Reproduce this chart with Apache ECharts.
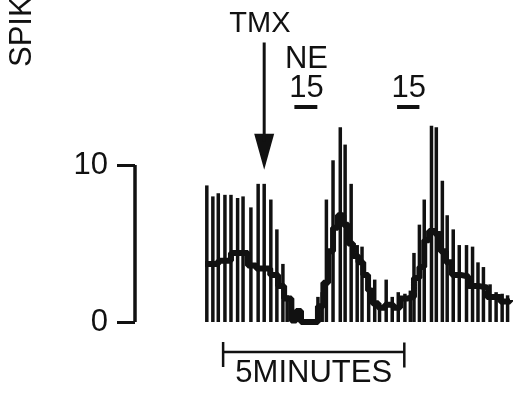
<!DOCTYPE html>
<html>
<head>
<meta charset="utf-8">
<script src="https://cdn.jsdelivr.net/npm/echarts@6/dist/echarts.min.js"></script>
<style>
html,body{margin:0;padding:0;background:#fff;}
#chart{width:514px;height:394px;}
</style>
</head>
<body>
<div id="chart"></div>
<script>
// time in seconds from start of trace, values in spikes/sec
const spikeTimes = [3, 13, 22, 33, 43, 54, 63, 76, 88, 98, 109, 119, 129, 136,
  187, 194, 201, 212, 224, 232, 242, 252, 260, 271, 281, 289, 300, 310, 320, 331, 340,
  346, 355, 363, 375, 383, 393, 401, 411, 421, 433, 443, 452, 461, 472, 482, 492, 501];
const spikeHeights = [8.7, 8.0, 8.2, 8.1, 8.1, 7.9, 8.0, 7.3, 8.8, 8.8, 7.8, 5.9, 3.7, 1.7,
  1.6, 1.9, 7.8, 10.3, 12.4, 11.3, 8.8, 4.9, 4.8, 2.9, 2.7, 1.2, 2.7, 1.6, 1.9, 1.8, 2.0,
  4.4, 6.2, 7.8, 12.5, 12.4, 9.0, 6.8, 5.9, 4.9, 4.9, 4.8, 3.8, 3.5, 2.4, 1.9, 1.8, 1.7];
const rateTimes = [0, 22, 43, 71, 85, 108, 121, 131, 143, 151, 159, 187, 196, 204, 212, 220, 229,
  237, 245, 254, 262, 270, 277, 287, 298, 312, 323, 336, 346, 355, 363, 371, 381, 390, 399, 409,
  423, 436, 452, 467, 489, 505];
const rateValues = [3.7, 3.9, 4.4, 3.6, 3.4, 3.0, 2.3, 1.5, 0.1, 0.7, 0.0, 1.0, 2.5, 4.5, 6.0, 6.8, 6.2,
  5.0, 4.2, 3.8, 3.0, 2.0, 1.2, 0.9, 1.1, 0.9, 1.5, 1.6, 2.8, 3.5, 5.2, 5.8, 5.6, 4.5, 3.8, 3.0,
  2.9, 2.3, 2.2, 1.6, 1.3, 1.4];
const scaleTicks = [0, 10];
const tmxTime = 98;
const neStart = [148, 318];
const neEnd = [186, 355];
const neDose = ['15', '15'];
const timeBarStart = 30;
const timeBarLength = 300; // 5 minutes
const timeBarLabel = '5MINUTES';
const yLabel = 'SPIKES/SEC';

const FONT = '"Liberation Sans", Arial, sans-serif';
const INK = '#111';

const chart = echarts.init(document.getElementById('chart'), null, {renderer: 'canvas'});

const series = [];
series.push({
  type: 'bar', xAxisIndex: 0, yAxisIndex: 0, barWidth: 3.5,
  itemStyle: {color: INK},
  data: spikeTimes.map((t, i) => [t, spikeHeights[i]])
});
series.push({
  type: 'line', xAxisIndex: 0, yAxisIndex: 0, step: 'end', symbol: 'none',
  lineStyle: {color: INK, width: 6},
  data: rateTimes.map((t, i) => [t, rateValues[i]])
});
// TMX arrow
series.push({
  type: 'line', xAxisIndex: 0, yAxisIndex: 0, symbol: 'none',
  lineStyle: {color: INK, width: 3},
  data: [[tmxTime, 17.8], [tmxTime, 11.5]]
});
series.push({
  type: 'scatter', xAxisIndex: 0, yAxisIndex: 0, symbol: 'triangle',
  symbolSize: [20, 36], symbolRotate: 180, itemStyle: {color: INK, opacity: 1},
  data: [[tmxTime, 10.85]]
});
// NE application bars
neStart.forEach((s, i) => {
  series.push({
    type: 'line', xAxisIndex: 0, yAxisIndex: 0, symbol: 'none',
    lineStyle: {color: INK, width: 4},
    data: [[s, 13.7], [neEnd[i], 13.7]]
  });
});
// time scale bar
const tbEnd = timeBarStart + timeBarLength;
[[[timeBarStart, -1.91], [tbEnd, -1.91]],
 [[timeBarStart, -1.27], [timeBarStart, -2.87]],
 [[tbEnd, -1.3], [tbEnd, -2.9]]].forEach(d => {
  series.push({
    type: 'line', xAxisIndex: 0, yAxisIndex: 0, symbol: 'none',
    lineStyle: {color: INK, width: 2.5}, data: d
  });
});
// text annotations
const lbl = {show: true, position: 'inside', color: INK, fontFamily: FONT, fontSize: 31};
const textPoints = [
  {value: [91, 19.0], label: Object.assign({}, lbl, {formatter: 'TMX', fontSize: 29})},
  {value: [168, 16.7], label: Object.assign({}, lbl, {formatter: 'NE'})}
];
neStart.forEach((s, i) => {
  textPoints.push({value: [(s + neEnd[i]) / 2 + 1, 14.9], label: Object.assign({}, lbl, {formatter: neDose[i]})});
});
textPoints.push({value: [timeBarStart + timeBarLength / 2, -3.28], label: Object.assign({}, lbl, {formatter: timeBarLabel})});
series.push({
  type: 'scatter', xAxisIndex: 0, yAxisIndex: 0, symbolSize: 1,
  itemStyle: {color: 'rgba(0,0,0,0)', opacity: 1}, data: textPoints, silent: true
});
// spike-rate scale bar
series.push({
  type: 'line', xAxisIndex: 1, yAxisIndex: 1, symbol: 'none',
  lineStyle: {color: INK, width: 3.5},
  data: [[0, scaleTicks[0]], [0, scaleTicks[1]]]
});

chart.setOption({
  animation: false,
  backgroundColor: '#fff',
  grid: [
    {left: 205, right: 4, top: 8, bottom: 9.2},
    {left: 135, width: 10, top: 8, bottom: 9.2}
  ],
  xAxis: [
    {gridIndex: 0, type: 'value', min: 0, max: 505, show: false},
    {gridIndex: 1, type: 'value', min: 0, max: 1, show: false}
  ],
  yAxis: [
    {gridIndex: 0, type: 'value', min: -4, max: 20, show: false},
    {gridIndex: 1, type: 'value', min: -4, max: 20, position: 'left',
     axisLine: {show: false}, splitLine: {show: false},
     axisTick: {show: true, customValues: scaleTicks, length: 18, lineStyle: {color: INK, width: 3}},
     axisLabel: {show: true, customValues: scaleTicks, margin: 27, color: INK, fontFamily: FONT, fontSize: 31}}
  ],
  graphic: [{
    type: 'text', x: 22, y: 67, rotation: Math.PI / 2,
    style: {text: yLabel, font: '31px ' + FONT, fill: INK,
      textAlign: 'left', textVerticalAlign: 'middle', align: 'left', verticalAlign: 'middle'}
  }],
  series: series
});
</script>
</body>
</html>
